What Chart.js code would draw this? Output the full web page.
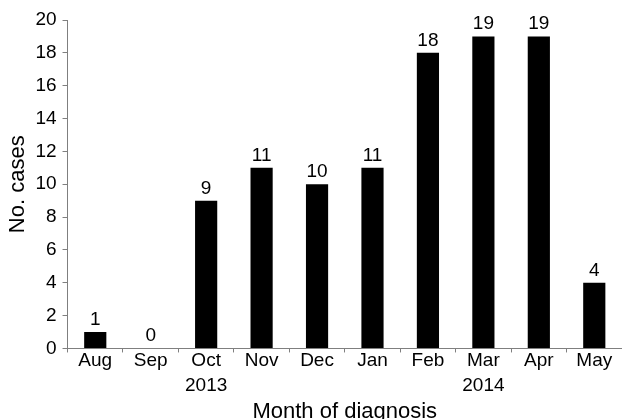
<!DOCTYPE html>
<html>
<head>
<meta charset="utf-8">
<script src="https://cdn.jsdelivr.net/npm/chart.js@4"></script>
<style>
  html, body { margin: 0; padding: 0; background: #fff; }
  #wrap { width: 622px; height: 419px; }
</style>
</head>
<body>
<div id="wrap"><canvas id="caseChart" width="622" height="419"></canvas></div>
<script>
// Data
const months = ['Aug', 'Sep', ['Oct', '2013'], 'Nov', 'Dec', 'Jan', 'Feb', ['Mar', '2014'], 'Apr', 'May'];
const cases = [1, 0, 9, 11, 10, 11, 18, 19, 19, 4];
const yTicks = [0, 2, 4, 6, 8, 10, 12, 14, 16, 18, 20];

const fontFamily = '"Liberation Sans", Arial, sans-serif';
const axisGrey = '#7f7f7f';

// Value labels above each bar
const barLabels = {
  id: 'barLabels',
  afterDatasetsDraw(chart) {
    const c = chart.ctx;
    const meta = chart.getDatasetMeta(0);
    c.save();
    c.fillStyle = '#000';
    c.font = '19px ' + fontFamily;
    c.textAlign = 'center';
    c.textBaseline = 'alphabetic';
    meta.data.forEach((bar, i) => {
      c.fillText(String(cases[i]), bar.x, bar.y - 7);
    });
    c.restore();
  }
};

const ctx = document.getElementById('caseChart').getContext('2d');
const caseChart = new Chart(ctx, {
  type: 'bar',
  data: {
    labels: months,
    datasets: [{
      label: 'No. cases',
      data: cases,
      backgroundColor: '#000',
      borderWidth: 0,
      barPercentage: 0.4,
      categoryPercentage: 1
    }]
  },
  options: {
    responsive: false,
    animation: false,
    layout: { padding: { top: 20, right: 0, left: 5, bottom: -6 } },
    plugins: {
      legend: { display: false },
      tooltip: { enabled: false }
    },
    scales: {
      x: {
        offset: true,
        grid: { offset: true, drawOnChartArea: false, color: axisGrey, tickLength: 4 },
        border: { color: axisGrey, width: 1 },
        ticks: { color: '#000', font: { family: fontFamily, size: 19, lineHeight: 1.32 }, padding: -4, maxRotation: 0, autoSkip: false },
        title: { display: true, text: 'Month of diagnosis', color: '#000', font: { family: fontFamily, size: 22 }, padding: { top: 4, bottom: 0 } }
      },
      y: {
        min: 0,
        max: 20,
        afterBuildTicks(axis) { axis.ticks = yTicks.map(v => ({ value: v })); },
        grid: { drawOnChartArea: false, color: axisGrey, tickLength: 5 },
        border: { color: axisGrey, width: 1 },
        ticks: { color: '#000', font: { family: fontFamily, size: 19 }, padding: 6 },
        title: { display: true, text: 'No. cases', color: '#000', font: { family: fontFamily, size: 22 }, padding: { top: 0, bottom: -2 } }
      }
    }
  },
  plugins: [barLabels]
});
</script>
</body>
</html>
